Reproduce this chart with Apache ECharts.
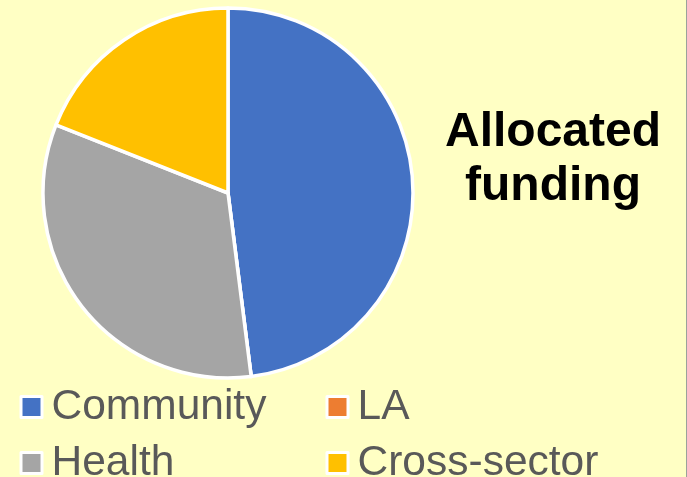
<!DOCTYPE html>
<html>
<head>
<meta charset="utf-8">
<script src="https://cdn.jsdelivr.net/npm/echarts@6/dist/echarts.min.js"></script>
<style>
  html, body { margin: 0; padding: 0; background: #FFFFC4; }
  #chart { width: 686px; height: 477px; border-right: 1px solid #9aa39a; }
</style>
</head>
<body>
<div id="chart"></div>
<script>
const categories = ['Community', 'LA', 'Health', 'Cross-sector']
const values = [48, 0, 33, 19]
const colors = ['#4472C4', '#ED7D31', '#A5A5A5', '#FFC000']

const pieData = categories.map((name, i) => ({ name: name, value: values[i] }))

// legend slots: two columns, two rows
const legendLeft = [19.5, 325.5, 19.5, 325.5]
const legendTop = [385, 385, 441, 441]

const legendCommon = {
  orient: 'horizontal',
  icon: 'rect',
  itemWidth: 21,
  itemHeight: 21,
  selectedMode: false,
  padding: 0,
  itemStyle: {
    borderColor: '#fff',
    borderWidth: 3
  },
  textStyle: {
    fontFamily: 'Liberation Sans, Arial, sans-serif',
    fontSize: 42.5,
    lineHeight: 44,
    color: '#595959',
    padding: [0, 0, 0, 4.5]
  }
}

const legends = categories.map((name, i) =>
  Object.assign({}, legendCommon, { data: [name], left: legendLeft[i], top: legendTop[i] })
)

const option = {
  backgroundColor: '#FFFFC4',
  color: colors,
  title: {
    text: 'Allocated\nfunding',
    left: 548,
    top: 101,
    textAlign: 'center',
    textStyle: {
      fontFamily: 'Liberation Sans, Arial, sans-serif',
      fontWeight: 'bold',
      fontSize: 48,
      lineHeight: 54,
      color: '#000'
    }
  },
  legend: legends,
  series: [
    {
      type: 'pie',
      center: [228, 193],
      radius: 185,
      startAngle: 90,
      clockwise: true,
      label: { show: false },
      labelLine: { show: false },
      emphasis: { disabled: true },
      animation: false,
      itemStyle: {
        borderColor: '#fff',
        borderWidth: 3.5
      },
      data: pieData
    }
  ]
}

const myChart = echarts.init(document.getElementById('chart'))
myChart.setOption(option, true)
</script>
</body>
</html>
